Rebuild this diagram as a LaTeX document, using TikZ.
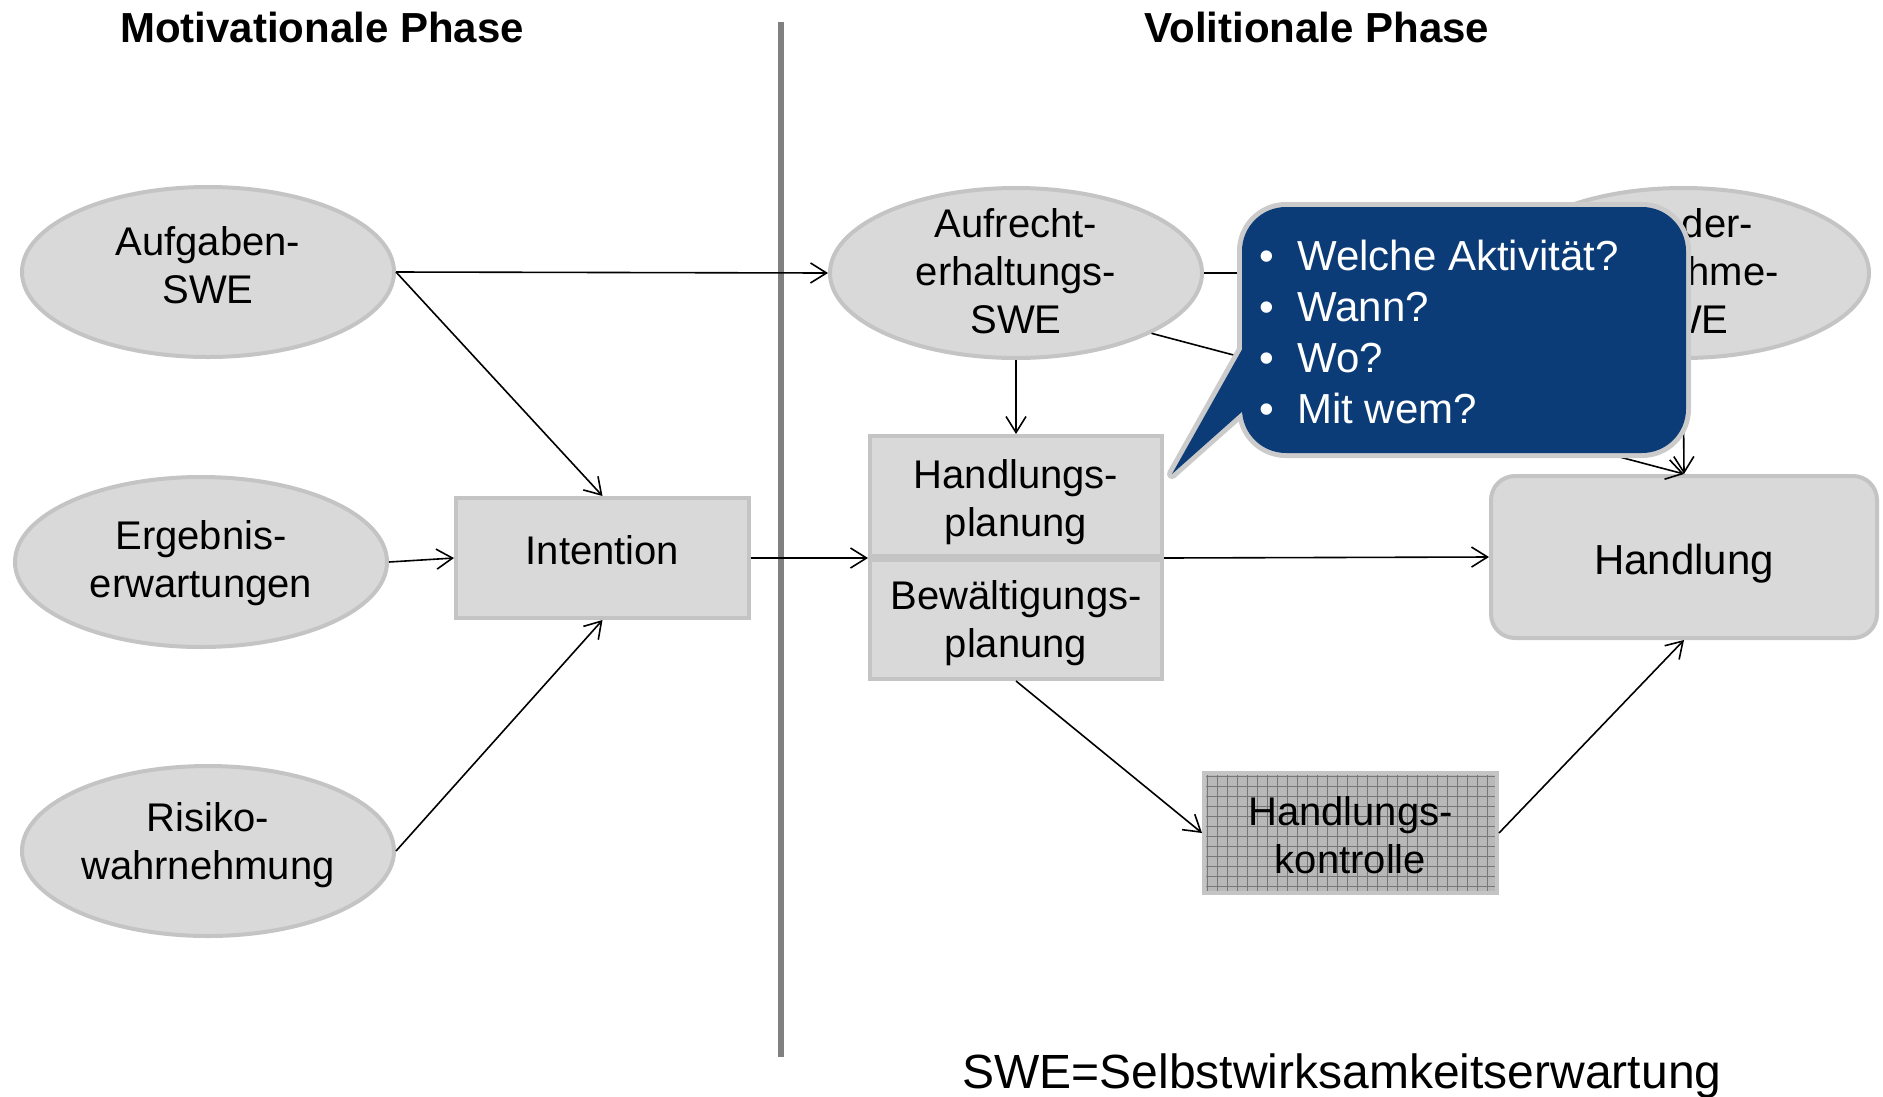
\documentclass[tikz,border=0pt]{standalone}
\usepackage{fontspec}
\setmainfont{Liberation Sans}
\usetikzlibrary{arrows.meta,shapes.geometric}
\definecolor{nodefill}{HTML}{D9D9DA}
\definecolor{nodeline}{HTML}{C4C4C4}
\definecolor{divgray}{HTML}{808080}
\definecolor{callblue}{HTML}{0B3C78}
\definecolor{callline}{HTML}{CBCBCB}
\definecolor{hkbase}{HTML}{B8B8B8}
\definecolor{hkgrid}{HTML}{777777}
\begin{document}
\begin{tikzpicture}[x=1pt,y=-1pt,
  ell/.style={ellipse, fill=nodefill, draw=nodeline, line width=4pt, minimum width=372pt, minimum height=170pt, inner sep=0pt},
  rbox/.style={rectangle, fill=nodefill, draw=nodeline, line width=4pt, minimum width=293pt, minimum height=120pt, inner sep=0pt},
  txt/.style={inner sep=0pt, align=center, font=\fontsize{40}{48}\selectfont},
  conn/.style={line width=1.6pt, -{Straight Barb[length=16pt,width=20pt]}},
  titletext/.style={font=\bfseries\fontsize{42}{50}\selectfont, anchor=base, inner sep=0pt},
  ctext/.style={text=white, font=\fontsize{42}{51}\selectfont, anchor=base west, inner sep=0pt},
  gridline/.style={draw=hkgrid, line width=1pt}]

\useasboundingbox[fill=white] (0,0) rectangle (1883,1096);

% titles
\node[titletext] (t1) at (322,42) {Motivationale Phase};
\node[titletext] (t2) at (1317,42) {Volitionale Phase};

% divider
\coordinate (d1) at (781,22);
\coordinate (d2) at (781,1057);
\draw[divgray, line width=6pt] (d1) -- (d2);

% shapes
\node[ell] (aufg) at (208,272) {};
\node[ell] (erg) at (201,562) {};
\node[ell] (risk) at (208,851) {};
\node[rbox] (int) at (602.5,558) {};
\node[ell] (aufr) at (1016,273) {};
\node[ell] (wied) at (1683,273) {};
\node[rbox, minimum width=292pt, minimum height=120pt] (hp) at (1016,496) {};
\node[rbox, minimum width=292pt, minimum height=119pt] (bp) at (1016,619.5) {};
\node[rbox, rounded corners=24pt, minimum width=386pt, minimum height=162pt] (hand) at (1684,557) {};

% Handlungskontrolle with grid texture
\fill[hkbase] (1204,773) rectangle (1497,893);
\begin{scope}
\clip (1204,773) rectangle (1497,893);
\foreach \gx in {1207,1217,...,1497} \draw[gridline] (\gx,773) -- (\gx,893);
\foreach \gy in {776,786,...,893} \draw[gridline] (1204,\gy) -- (1497,\gy);
\end{scope}
\node[rbox, fill=none] (hk) at (1350.5,833) {};

% texts
\node[txt] (aufgT) at ([yshift=7pt]aufg.center) {Aufgaben-\\SWE};
\node[txt] (ergT) at ([yshift=-1pt]erg.center) {Ergebnis-\\erwartungen};
\node[txt] (riskT) at ([yshift=6pt]risk.center) {Risiko-\\wahrnehmung};
\node[txt] (intT) at ([yshift=8pt]int.center) {Intention};
\node[txt] (aufrT) at ([yshift=2pt]aufr.center) {Aufrecht-\\erhaltungs-\\SWE};
\node[txt] (wiedT) at ([yshift=2pt]wied.center) {Wieder-\\aufnahme-\\SWE};
\node[txt] (hpT) at ([yshift=-6pt]hp.center) {Handlungs-\\planung};
\node[txt] (bpT) at ([yshift=-4pt]bp.center) {Bew\"altigungs-\\planung};
\node[txt, font=\fontsize{42}{50}\selectfont] (handT) at ([yshift=-7pt]hand.center) {Handlung};
\node[txt] (hkT) at ([yshift=-2pt]hk.center) {Handlungs-\\kontrolle};

% connectors
\draw[conn] (aufg.east) -- (aufr.west);
\draw[conn] (aufg.east) -- (int.north);
\draw[conn] (erg.east) -- (int.west);
\draw[conn] (risk.east) -- (int.south);
\draw[conn] (int.east) -- (hp.south west);
\draw[conn] (aufr.south) -- (hp.north);
\draw[conn] (hp.south east) -- (hand.west);
\draw[conn] (bp.south) -- (hk.west);
\draw[conn] (hk.east) -- (hand.south);
\draw[conn] (aufr.east) -- (wied.west);
\draw[conn] (wied.south) -- (hand.north);
\draw[conn] (aufr.-24.6) -- (hand.north);

% callout
\draw[draw=callline, fill=callblue, line width=10pt, rounded corners=44pt] (1242,207) rectangle (1686,453);
\draw[draw=callline, fill=callblue, line width=10pt, line join=round] (1172,474) -- (1262,314) -- (1262,394) -- cycle;
\fill[callblue, rounded corners=44pt] (1242,207) rectangle (1686,453);
\fill[callblue, line join=round] (1172,474) -- (1262,314) -- (1262,394) -- cycle;

\node[ctext] (b1) at (1259,270) {•};
\node[ctext] (c1) at (1297,270) {Welche Aktivität?};
\node[ctext] (b2) at (1259,321) {•};
\node[ctext] (c2) at (1297,321) {Wann?};
\node[ctext] (b3) at (1259,372) {•};
\node[ctext] (c3) at (1297,372) {Wo?};
\node[ctext] (b4) at (1259,423) {•};
\node[ctext] (c4) at (1297,423) {Mit wem?};

% legend
\node[anchor=base, inner sep=0pt, font=\fontsize{48}{56}\selectfont] (leg) at (1342,1088) {SWE=Selbstwirksamkeitserwartung};
\end{tikzpicture}
\end{document}
